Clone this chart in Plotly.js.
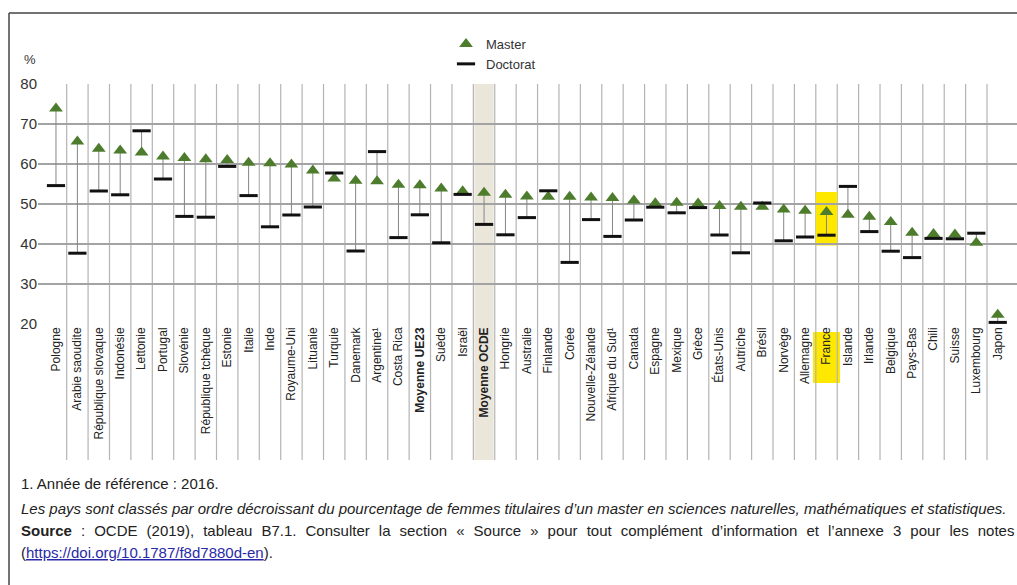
<!DOCTYPE html>
<html><head><meta charset="utf-8">
<script src="https://cdn.plot.ly/plotly-3.0.1.min.js"></script>
<style>html,body{margin:0;padding:0;background:#fff}#chart{width:1017px;height:585px}</style>
</head><body><div id="chart"></div>
<script>
// ---- data ----
const countries = ['Pologne','Arabie saoudite','République slovaque','Indonésie','Lettonie','Portugal','Slovénie','République tchèque','Estonie','Italie','Inde','Royaume-Uni','Lituanie','Turquie','Danemark','Argentine¹','Costa Rica','Moyenne UE23','Suède','Israël','Moyenne OCDE','Hongrie','Australie','Finlande','Corée','Nouvelle-Zélande','Afrique du Sud¹','Canada','Espagne','Mexique','Grèce','États-Unis','Autriche','Brésil','Norvège','Allemagne','France','Islande','Irlande','Belgique','Pays-Bas','Chili','Suisse','Luxembourg','Japon'];
const master = [73.9,65.6,63.8,63.4,62.9,61.9,61.5,61.2,61.0,60.3,60.2,59.9,58.4,56.4,55.8,55.7,54.8,54.7,53.9,53.2,52.8,52.3,51.9,51.8,51.8,51.6,51.5,50.9,50.2,50.3,50.1,49.5,49.3,49.3,48.6,48.3,48.0,47.3,46.8,45.5,42.8,42.5,42.4,40.3,22.3];
const doctorat = [54.6,37.7,53.25,52.3,68.3,56.25,46.9,46.7,59.4,52.1,44.3,47.25,49.25,57.75,38.25,63.1,41.6,47.3,40.3,52.4,44.9,42.3,46.6,53.3,35.4,46.1,41.9,46.0,49.2,47.8,49.1,42.25,37.8,50.25,40.8,41.75,42.2,54.4,43.1,38.2,36.6,41.4,41.3,42.7,20.4];
const boldLabels = ['Moyenne UE23','Moyenne OCDE'];
const shadedCategory = 'Moyenne OCDE';
const yellowCategory = 'France';
const yTicks = [20,30,40,50,60,70,80];
const footnotes = [
  '1. Année de référence : 2016.',
  '<i>Les pays sont classés par ordre décroissant du pourcentage de femmes titulaires d\u2019un master en sciences naturelles, mathématiques et statistiques.</i>',
  '<span style="word-spacing:4.9px"><b>Source</b> : OCDE (2019), tableau B7.1. Consulter la section « Source » pour tout complément d\u2019information et l\u2019annexe 3 pour les notes</span>',
  '(<span style="color:#2a2aa8;text-decoration:underline">https://doi.org/10.1787/f8d7880d-en</span>).'
];

// ---- geometry helpers (page pixels -> paper) ----
const L = 38, T = 84, W = 979, H = 240;
const px = x => (x - L) / W;
const py = y => (T + H - y) / H;

const FONT = "'Liberation Sans', Arial, sans-serif";

const stemX = [], stemY = [];
countries.forEach((c, i) => { stemX.push(i, i, null); stemY.push(master[i], doctorat[i], null); });
const xs = countries.map((c, i) => i);

const traces = [
  {x: stemX, y: stemY, type: 'scatter', mode: 'lines', line: {color: '#858585', width: 1}, showlegend: false, hoverinfo: 'skip'},
  {x: xs, y: master, name: 'Master', type: 'scatter', mode: 'markers',
   marker: {symbol: 'triangle-up', size: 12, color: '#4d7c2c'}},
  {x: xs, y: doctorat, name: 'Doctorat', type: 'scatter', mode: 'markers',
   marker: {symbol: 'line-ew', size: 13, color: '#111', line: {color: '#111', width: 3}}}
];

const shapes = [];
// frame
shapes.push({type: 'line', xref: 'paper', yref: 'paper', x0: px(9), x1: px(1030), y0: py(13), y1: py(13), line: {color: '#444', width: 1.5}});
shapes.push({type: 'line', xref: 'paper', yref: 'paper', x0: px(9), x1: px(9), y0: py(13), y1: py(600), line: {color: '#444', width: 1.5}});
// shaded OECD column
const si = countries.indexOf(shadedCategory);
shapes.push({type: 'rect', layer: 'below', xref: 'x', yref: 'paper', x0: si - 0.45, x1: si + 0.45, y0: py(460), y1: 1, fillcolor: '#ebe6da', line: {width: 0}});
// yellow highlight for France
const fi = countries.indexOf(yellowCategory);
shapes.push({type: 'rect', layer: 'below', xref: 'x', yref: 'y', x0: fi - 0.5, x1: fi + 0.5, y0: 39.6, y1: 53.0, fillcolor: '#ffe800', line: {width: 0}});
shapes.push({type: 'rect', layer: 'below', xref: 'x', yref: 'paper', x0: fi - 0.63, x1: fi + 0.63, y0: py(383), y1: py(332), fillcolor: '#ffe800', line: {width: 0}});
// vertical separators between categories, extending through label area
for (let i = 0; i < countries.length - 1; i++) {
  shapes.push({type: 'line', layer: 'below', xref: 'x', yref: 'paper', x0: i + 0.5, x1: i + 0.5, y0: py(460), y1: 1, line: {color: '#b4b4b4', width: 1.2}});
}

const annotations = [
  {xref: 'paper', yref: 'paper', x: px(22), y: py(60), xanchor: 'left', yanchor: 'middle', text: '%', showarrow: false, font: {family: FONT, size: 13, color: '#333'}}
];
const footY = [484, 508, 530, 552];
footnotes.forEach((t, k) => {
  annotations.push({xref: 'paper', yref: 'paper', x: px(19), y: py(footY[k]), xanchor: 'left', yanchor: 'middle', align: 'left', text: t, showarrow: false, font: {family: FONT, size: 15, color: '#222'}});
});

const layout = {
  width: 1017, height: 585,
  margin: {l: L, r: 1017 - L - W, t: T, b: 585 - T - H},
  paper_bgcolor: '#fff', plot_bgcolor: 'rgba(0,0,0,0)',
  showlegend: true,
  legend: {x: px(446), y: py(29), xanchor: 'left', yanchor: 'top', bgcolor: 'rgba(0,0,0,0)', font: {family: FONT, size: 13, color: '#333'}, tracegroupgap: 0},
  xaxis: {
    range: [-0.84, 44.9], tickmode: 'array', tickvals: xs,
    ticktext: countries.map(c => boldLabels.includes(c) ? '<b>' + c + '</b>' : c),
    tickangle: -90, showgrid: false, zeroline: false, showline: false, ticks: '',
    tickfont: {family: FONT, size: 12, color: '#222'}, fixedrange: true
  },
  yaxis: {
    range: [20, 80], tickvals: yTicks, showgrid: true, gridcolor: '#a3a3a3', gridwidth: 1.4,
    zeroline: false, showline: false, ticks: '', tickfont: {family: FONT, size: 15, color: '#333'}, fixedrange: true
  },
  shapes: shapes, annotations: annotations
};

Plotly.newPlot('chart', traces, layout, {displayModeBar: false, staticPlot: true});
</script></body></html>
